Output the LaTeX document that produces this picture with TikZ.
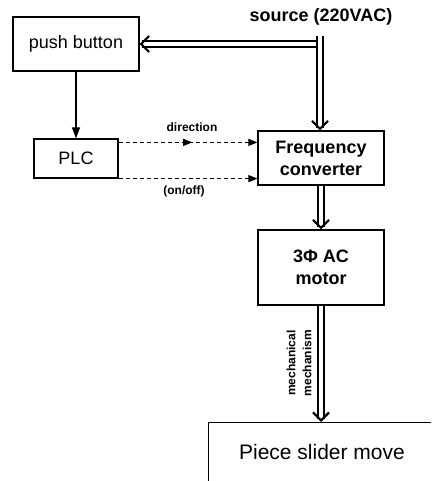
\documentclass[tikz,border=0pt]{standalone}
\usepackage{fontspec}
\setmainfont{Liberation Sans}
\usetikzlibrary{arrows.meta,decorations.markings,calc}

\begin{document}
\begin{tikzpicture}[x=1pt,y=-1pt,
  blk/.style={draw,line width=1.2pt,inner sep=0pt,align=center},
  plain/.style={font=\fontsize{18}{22}\selectfont},
  heavy/.style={font=\fontsize{18}{22}\selectfont\bfseries},
  small/.style={font=\fontsize{12}{16}\selectfont\bfseries,inner sep=0pt},
  % power lines: a double shaft, then an open chevron head on top
  pow/.style={double,line width=1.9pt,double distance=3.4pt,shorten >=2.6pt},
  powtip/.style={draw=white,line width=3pt,
    -{Straight Barb[color=black,length=8pt,width=16pt,line width=2.2pt]}},
  ctl/.style={line width=1.2pt,-{Triangle[length=11pt,width=8pt]}},
  sig/.style={line width=1.1pt,dash pattern=on 4pt off 3pt,
    -{Triangle[length=9pt,width=7pt]}},
  midtip/.style={postaction={decorate},decoration={markings,
    mark=at position 0.53 with {\arrow{Triangle[length=9pt,width=7pt]}}}}]

\useasboundingbox (0,0) rectangle (431,481);
\clip (0,0) rectangle (431,481);

% blocks
\node[blk,plain,minimum width=126pt,minimum height=54pt] (pb) at (76,44) {push button};
\node[blk,plain,minimum width=84pt,minimum height=39pt] (plc) at (76,158.5) {PLC};
\node[blk,heavy,minimum width=126pt,minimum height=54pt] (fc) at (321,158) {Frequency\\converter};
\node[blk,heavy,minimum width=126pt,minimum height=75pt] (mot) at (321,267.5) {3Φ AC\\motor};
\node[blk,anchor=north west,minimum width=240pt,minimum height=80pt] (sl) at (208,422) {};
\node[font=\fontsize{21}{25}\selectfont] (sltxt) at (322,452) {Piece slider move};

% supply
\node[font=\fontsize{18}{22}\selectfont\bfseries] (srclbl) at (321,17) {source (220VAC)};
\coordinate (src) at (320,36);
\coordinate (tap) at (315.6,44);
\draw[pow] (src) -- (src |- fc.north);
\draw[powtip] (src) -- (src |- fc.north);
\draw[pow] (tap) -- (tap -| pb.east);
\draw[powtip] (tap) -- (tap -| pb.east);

% power chain
\draw[pow] (fc.south) -- (mot.north);
\draw[powtip] (fc.south) -- (mot.north);
\draw[pow] (mot.south) -- (mot.south |- sl.north);
\draw[powtip] (mot.south) -- (mot.south |- sl.north);
\node[small,rotate=90,align=center] (mech) at (299,363) {mechanical\\mechanism};

% control
\draw[ctl] (pb.south) -- (plc.north);
\coordinate (d1) at ($(plc.north east)+(0,4)$);
\coordinate (d2) at (d1 -| fc.west);
\coordinate (o1) at (plc.south east);
\coordinate (o2) at (o1 -| fc.west);
\draw[sig,midtip] (d1) -- (d2);
\draw[sig] (o1) -- (o2);
\node[small] (dirlbl) at (192,127) {direction};
\node[small] (onlbl) at (184,191) {(on/off)};

\end{tikzpicture}
\end{document}
